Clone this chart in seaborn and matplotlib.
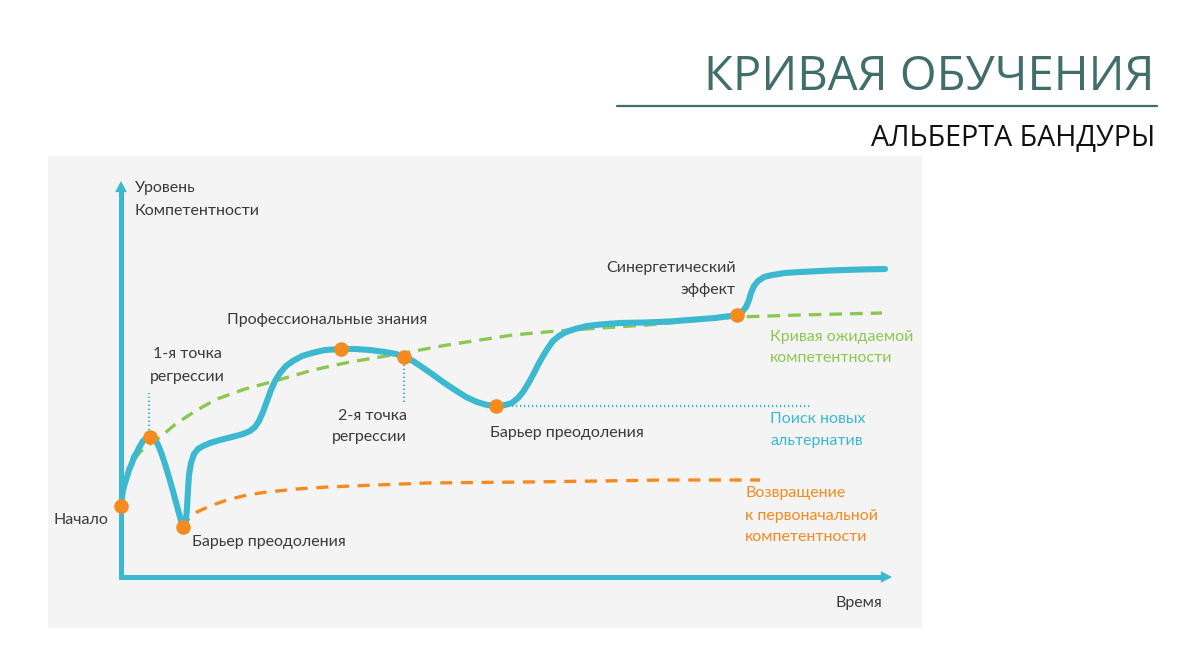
import numpy as np
import pandas as pd
import matplotlib.pyplot as plt
import seaborn as sns

# основная кривая: время / уровень компетентности
curve_t = [0, 1, 2, 4, 6, 8, 11, 13, 16, 19, 22, 26, 29, 32, 35, 38, 41, 44, 47, 50, 53, 56, 59,
           61, 62, 64, 65, 66, 67, 68, 70, 73, 77, 82, 89, 99, 111, 122, 129, 134, 138, 142, 146,
           150, 154, 159, 165, 172, 181, 191, 204, 220, 234, 249, 264, 275, 283, 292, 301, 311,
           322, 334, 345, 356, 366, 375, 384, 391, 397, 402, 407, 412, 417, 422, 427, 432, 438,
           445, 454, 466, 479, 499, 524, 549, 574, 594, 609, 616, 621, 625, 628, 630, 633, 637,
           643, 651, 664, 679, 709, 739, 764]
curve_c = [71, 79, 87, 94, 100, 107, 114, 120, 125, 131, 136, 139, 140, 139, 136, 130, 122, 113,
           103, 93, 82, 71, 60, 53, 50, 51, 57, 69, 87, 102, 114, 123, 128, 131, 134, 137, 140,
           143, 146, 150, 156, 165, 176, 187, 196, 204, 211, 216, 221, 224, 227, 228, 228, 227,
           225, 223, 220, 216, 210, 203, 195, 187, 180, 175, 172, 171, 172, 174, 179, 185, 193,
           202, 212, 221, 229, 236, 241, 245, 248, 251, 252.5, 254, 254.5, 255.5, 257.5, 259,
           261, 262, 265, 270, 277, 284, 291, 296, 300, 302, 304, 305, 306.5, 307.5, 308]

# ключевые точки (оранжевые)
key_t = [0, 29, 62, 220, 283, 375, 616]
key_c = [71, 140, 50, 228, 220, 171, 262]

# кривая ожидаемой компетентности
expect_t = [5, 12, 19, 29, 39, 56, 76, 96, 124, 154, 192, 229, 283, 326, 392, 436, 479, 526,
            579, 616, 679, 761]
expect_c = [99, 115, 125, 133, 140, 154, 167, 178, 188, 196, 207, 215, 224, 232, 242, 246, 249,
            252, 257, 260, 262, 264]

# возвращение к первоначальной компетентности
return_t = [62, 64, 70, 76, 89, 106, 126, 146, 176, 206, 256, 306, 406, 479, 544, 639]
return_c = [49, 55, 60, 65, 71, 77, 82, 85, 88, 90, 92, 94, 95, 96, 97, 97]

# поиск новых альтернатив
search_t = [375, 690]
search_c = [171, 171]

# точки регрессии (пунктир вверх/вниз)
reg1_t = [28, 28]
reg1_c = [147, 184]
reg2_t = [283, 283]
reg2_c = [175, 214]

BLUE = '#3cb9d0'
ORANGE = '#f58a1f'
GREEN = '#8dc751'
TEXT = '#3a3a3a'
TITLE = '#416e6a'

sns.set_theme(style="white")
plt.rcParams['font.family'] = ['Lato', 'DejaVu Sans']

fig = plt.figure(figsize=(12, 6.52), dpi=100)
fig.patch.set_facecolor('white')

# серая подложка графика, координаты ~ пиксели от начала осей
ax = fig.add_axes([48 / 1200, 1 - 628 / 652, 874 / 1200, 472 / 652])
ax.set_facecolor('#f4f4f4')
ax.set_xlim(-73, 801)
ax.set_ylim(-51, 421)
ax.set_xticks([])
ax.set_yticks([])
sns.despine(ax=ax, left=True, bottom=True)

# оси: L-образная линия + наконечники
ax.plot([0, 0, 764], [388, 0, 0], color=BLUE, lw=3.6, solid_joinstyle='miter',
        solid_capstyle='butt', zorder=2)
head = dict(arrowstyle='-|>,head_length=0.8,head_width=0.42', mutation_scale=10,
            color=BLUE, lw=0, shrinkA=0, shrinkB=0)
ax.annotate('', xy=(0, 396), xytext=(0, 380), arrowprops=head, zorder=2)
ax.annotate('', xy=(771, 0), xytext=(755, 0), arrowprops=head, zorder=2)

sns.lineplot(x=expect_t, y=expect_c, ax=ax, sort=False, estimator=None, color=GREEN,
             lw=2.4, linestyle=(0, (3.8, 2.4)), zorder=2)
sns.lineplot(x=return_t, y=return_c, ax=ax, sort=False, estimator=None, color=ORANGE,
             lw=2.4, linestyle=(0, (3.6, 2.6)), zorder=2)
sns.lineplot(x=search_t, y=search_c, ax=ax, sort=False, estimator=None, color=BLUE,
             lw=1.6, linestyle=(0, (0.6, 1.2)), zorder=2)
for vt, vc in [(reg1_t, reg1_c), (reg2_t, reg2_c)]:
    sns.lineplot(x=vt, y=vc, ax=ax, sort=False, estimator=None, color=BLUE,
                 lw=1.6, linestyle=(0, (0.6, 1.2)), zorder=2)

sns.lineplot(x=curve_t, y=curve_c, ax=ax, sort=False, estimator=None, color=BLUE,
             lw=4.4, solid_capstyle='round', solid_joinstyle='round', zorder=3)
sns.scatterplot(x=key_t, y=key_c, ax=ax, color=ORANGE, s=110, linewidth=0, zorder=4)


def label(px, py, s, ha='left', color=TEXT):
    ax.text(px - 121, 577 - py, s, ha=ha, va='center', fontsize=11.5, color=color)


label(135, 188, 'Уровень')
label(135, 211, 'Компетентности')
label(187, 354, '1-я точка', ha='center')
label(187, 377, 'регрессии', ha='center')
label(327, 320, 'Профессиональные знания', ha='center')
label(407, 416, '2-я точка', ha='right')
label(407, 437, 'регрессии', ha='right')
label(108, 520, 'Начало', ha='right')
label(192, 542, 'Барьер преодоления')
label(490, 433, 'Барьер преодоления')
label(736, 268, 'Синергетический', ha='right')
label(736, 290, 'эффект', ha='right')
label(770, 337, 'Кривая ожидаемой', color=GREEN)
label(770, 358, 'компетентности', color=GREEN)
label(770, 419, 'Поиск новых', color=BLUE)
label(770, 441, 'альтернатив', color=BLUE)
label(745, 493, 'Возвращение', color=ORANGE)
label(745, 516, 'к первоначальной', color=ORANGE)
label(745, 537, 'компетентности', color=ORANGE)
label(882, 603, 'Время', ha='right')

# заголовок
fig.text(1155 / 1200, 1 - 77 / 652, 'КРИВАЯ ОБУЧЕНИЯ', ha='right', va='center',
         fontsize=34, color=TITLE, family=['Open Sans', 'DejaVu Sans'])
fig.add_artist(plt.Line2D([617 / 1200, 1157 / 1200], [1 - 106 / 652, 1 - 106 / 652],
                          color=TITLE, lw=1.6))
fig.text(1155 / 1200, 1 - 139 / 652, 'АЛЬБЕРТА БАНДУРЫ', ha='right', va='center',
         fontsize=20.7, color='#111111', family=['Open Sans', 'DejaVu Sans'])

fig.savefig('out.png', dpi=100, facecolor='white')
